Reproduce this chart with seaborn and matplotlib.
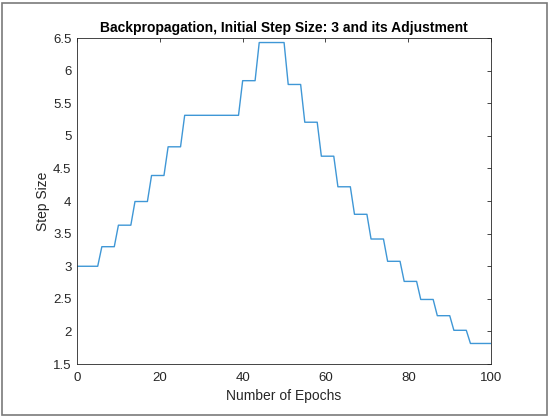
import numpy as np
import pandas as pd
import matplotlib
matplotlib.use('Agg')
import matplotlib.pyplot as plt
import seaborn as sns
from matplotlib.patches import Rectangle

step_levels = [3.0, 3.3, 3.63, 3.993, 4.392, 4.832, 5.315, 5.846, 6.431,
               5.788, 5.209, 4.688, 4.219, 3.797, 3.418, 3.076, 2.768,
               2.491, 2.242, 2.018, 1.816]
level_lengths = [6, 4, 4, 4, 4, 4, 14, 4, 7,
                 4, 4, 4, 4, 4, 4, 4, 4,
                 4, 4, 4, 6]
x_ticks = [0, 20, 40, 60, 80, 100]
y_ticks = [1.5, 2, 2.5, 3, 3.5, 4, 4.5, 5, 5.5, 6, 6.5]

epochs = np.arange(sum(level_lengths))
step_size = np.repeat(step_levels, level_lengths)
df = pd.DataFrame({'epoch': epochs, 'step': step_size})

sns.set_style('white')
plt.rcParams['font.family'] = ['Liberation Sans', 'DejaVu Sans']

fig = plt.figure(figsize=(5.5, 4.18), dpi=100)
ax = fig.add_axes([0.14, 0.129, 0.753, 0.78])

sns.lineplot(x='epoch', y='step', data=df, color='#3f97d6', linewidth=1.0, ax=ax)

ax.set_xlim(0, 100)
ax.set_ylim(1.5, 6.5)
ax.set_xticks(x_ticks)
ax.set_yticks(y_ticks)
ax.set_yticklabels([f'{t:g}' for t in y_ticks])
ax.tick_params(direction='in', length=3, width=0.6, colors='#262626',
               labelsize=9.5, top=True, right=True, labeltop=False, labelright=False)
ax.tick_params(axis='x', pad=6)
ax.tick_params(axis='y', pad=4)
for s in ax.spines.values():
    s.set_color('#262626')
    s.set_linewidth(0.6)

ax.set_title('Backpropagation, Initial Step Size: 3 and its Adjustment',
             fontsize=10, fontweight='bold', color='black', pad=4)
ax.set_xlabel('Number of Epochs', fontsize=10, color='#262626', labelpad=3)
ax.set_ylabel('Step Size', fontsize=10, color='#262626', labelpad=2)

# thin grey frame around the whole picture
fig.patches.append(Rectangle((0.004, 0.007), 0.991, 0.986, transform=fig.transFigure,
                             fill=False, edgecolor='#7a7a7a', linewidth=1.2))

fig.savefig('out.png', dpi=100)
